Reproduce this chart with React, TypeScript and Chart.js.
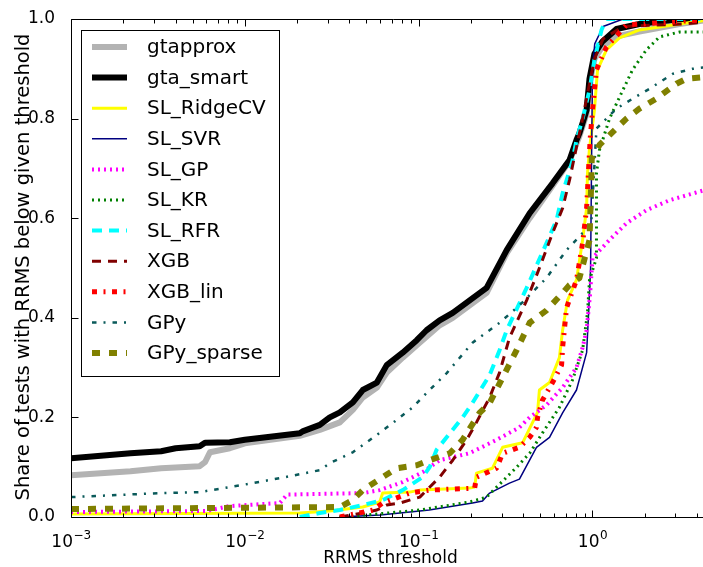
import React, { useEffect, useRef } from "react";
import { Chart, registerables } from "chart.js";

Chart.register(...registerables);

const FONT = "'DejaVu Sans', sans-serif";

// ---- data (x = RRMS threshold, y = share of tests) ----
const X_MIN = 0.001;
const X_MAX = 5;
const X_MAJOR_TICKS = [0.001, 0.01, 0.1, 1];
const X_TICK_EXPONENTS = ["\u22123", "\u22122", "\u22121", "0"];
const Y_TICKS = [0, 0.2, 0.4, 0.6, 0.8, 1.0];
const X_TITLE = "RRMS threshold";
const Y_TITLE = "Share of tests with RRMS below given threshold";

const GTAPPROX: [number, number][] = [
  [0.001, 0.084], [0.0022, 0.092], [0.0033, 0.098], [0.0055, 0.102], [0.0059, 0.11], [0.0063, 0.13],
  [0.0082, 0.138], [0.01, 0.148], [0.0207, 0.163], [0.027, 0.175], [0.0352, 0.19], [0.0418, 0.215],
  [0.0477, 0.24], [0.0575, 0.26], [0.0655, 0.29], [0.0809, 0.32], [0.0975, 0.345], [0.132, 0.385],
  [0.157, 0.4], [0.246, 0.45], [0.321, 0.53], [0.435, 0.6], [0.589, 0.665], [0.738, 0.715],
  [0.841, 0.765], [0.925, 0.81], [0.961, 0.87], [1.026, 0.92], [1.141, 0.945], [1.374, 0.965],
  [1.862, 0.975], [3.17, 0.99], [5, 1.0],
];
const GTA_SMART: [number, number][] = [
  [0.001, 0.118], [0.0022, 0.128], [0.0033, 0.132], [0.004, 0.138], [0.0055, 0.142], [0.0059, 0.149],
  [0.0082, 0.15], [0.01, 0.155], [0.0207, 0.168], [0.0215, 0.172], [0.027, 0.185], [0.0308, 0.2],
  [0.0352, 0.21], [0.0418, 0.23], [0.0477, 0.255], [0.0575, 0.27], [0.0655, 0.305], [0.0809, 0.33],
  [0.0975, 0.355], [0.111, 0.375], [0.132, 0.395], [0.157, 0.41], [0.246, 0.46], [0.321, 0.536],
  [0.435, 0.61], [0.589, 0.67], [0.738, 0.717], [0.809, 0.757], [0.841, 0.771], [0.925, 0.817],
  [0.961, 0.88], [1.026, 0.93], [1.141, 0.955], [1.374, 0.98], [1.862, 0.99], [3.17, 1.0], [5, 1.0],
];
const SL_RIDGECV: [number, number][] = [
  [0.001, 0.006], [0.0207, 0.008], [0.0308, 0.012], [0.0477, 0.02], [0.0597, 0.03], [0.0621, 0.048],
  [0.0887, 0.05], [0.1015, 0.054], [0.196, 0.058], [0.21, 0.06], [0.215, 0.088], [0.266, 0.098],
  [0.304, 0.14], [0.396, 0.149], [0.435, 0.178], [0.483, 0.21], [0.495, 0.255], [0.566, 0.27],
  [0.645, 0.32], [0.673, 0.375], [0.718, 0.435], [0.809, 0.476], [0.877, 0.556], [0.925, 0.62],
  [0.936, 0.69], [0.961, 0.74], [1.026, 0.817], [1.069, 0.898], [1.203, 0.938], [1.43, 0.962],
  [1.862, 0.978], [2.9, 0.988], [5, 1.0],
];
const SL_SVR: [number, number][] = [
  [0.035, 0], [0.06, 0.004], [0.1015, 0.012], [0.115, 0.014], [0.204, 0.028], [0.233, 0.032],
  [0.256, 0.048], [0.333, 0.068], [0.38, 0.076], [0.476, 0.14], [0.566, 0.16], [0.673, 0.209],
  [0.809, 0.255], [0.925, 0.33], [0.95, 0.41], [0.975, 0.5], [0.99, 0.75], [1.0, 0.9],
  [1.03, 0.95], [1.15, 0.985], [1.5, 1.0], [5, 1.0],
];
const SL_GP: [number, number][] = [
  [0.001, 0.01], [0.006, 0.012], [0.0082, 0.022], [0.0159, 0.028], [0.0175, 0.045], [0.0477, 0.048],
  [0.0597, 0.054], [0.0809, 0.07], [0.1055, 0.09], [0.132, 0.114], [0.196, 0.128], [0.281, 0.155],
  [0.38, 0.18], [0.435, 0.2], [0.544, 0.225], [0.673, 0.26], [0.809, 0.3], [0.877, 0.34],
  [0.925, 0.375], [0.97, 0.45], [1.0, 0.52], [1.25, 0.556], [1.57, 0.59], [2.04, 0.616],
  [2.77, 0.636], [5, 0.662],
];
const SL_KR: [number, number][] = [
  [0.035, 0], [0.05, 0.004], [0.1015, 0.014], [0.196, 0.03], [0.246, 0.04], [0.281, 0.06],
  [0.366, 0.1], [0.435, 0.128], [0.516, 0.169], [0.645, 0.22], [0.767, 0.275], [0.877, 0.335],
  [0.936, 0.41], [0.961, 0.476], [1.054, 0.52], [1.054, 0.69], [1.097, 0.737], [1.253, 0.8],
  [1.43, 0.843], [1.7, 0.898], [2.04, 0.938], [2.43, 0.964], [3.17, 0.974], [5, 0.974],
];
const SL_RFR: [number, number][] = [
  [0.0207, 0], [0.027, 0.008], [0.0352, 0.014], [0.0477, 0.024], [0.0621, 0.034], [0.0809, 0.054],
  [0.1055, 0.08], [0.1156, 0.1], [0.1268, 0.135], [0.157, 0.175], [0.179, 0.2], [0.204, 0.229],
  [0.256, 0.285], [0.292, 0.335], [0.321, 0.375], [0.418, 0.46], [0.544, 0.55], [0.621, 0.596],
  [0.673, 0.65], [0.767, 0.715], [0.809, 0.757], [0.877, 0.8], [0.961, 0.857], [1.026, 0.918],
  [1.127, 0.978], [1.2, 1.0], [5, 1.0],
];
const XGB: [number, number][] = [
  [0.0352, 0], [0.0477, 0.008], [0.0575, 0.014], [0.0655, 0.024], [0.0778, 0.028], [0.1015, 0.04],
  [0.132, 0.08], [0.157, 0.114], [0.189, 0.155], [0.215, 0.19], [0.256, 0.24], [0.292, 0.29],
  [0.333, 0.36], [0.418, 0.435], [0.495, 0.5], [0.589, 0.57], [0.673, 0.62], [0.738, 0.677],
  [0.809, 0.743], [0.877, 0.8], [0.961, 0.87], [1.026, 0.92], [1.15, 0.96], [1.5, 0.985],
  [3.3, 0.99], [5, 0.995],
];
const XGB_LIN: [number, number][] = [
  [0.0352, 0], [0.0545, 0.014], [0.0621, 0.028], [0.0887, 0.048], [0.1156, 0.054], [0.21, 0.058],
  [0.215, 0.08], [0.281, 0.098], [0.304, 0.128], [0.38, 0.14], [0.435, 0.16], [0.476, 0.18],
  [0.483, 0.2], [0.516, 0.235], [0.589, 0.27], [0.664, 0.305], [0.673, 0.34], [0.709, 0.42],
  [0.809, 0.476], [0.877, 0.55], [0.925, 0.62], [0.95, 0.7], [0.97, 0.76], [1.0, 0.817],
  [1.054, 0.898], [1.203, 0.944], [1.567, 0.988], [1.94, 0.99], [5, 1.0],
];
const GPY: [number, number][] = [
  [0.001, 0.04], [0.00325, 0.048], [0.0055, 0.05], [0.0096, 0.064], [0.0159, 0.078], [0.027, 0.094],
  [0.0308, 0.108], [0.0418, 0.13], [0.0597, 0.169], [0.0748, 0.195], [0.0924, 0.22], [0.111, 0.249],
  [0.145, 0.289], [0.204, 0.35], [0.292, 0.39], [0.38, 0.425], [0.544, 0.48], [0.709, 0.536],
  [0.877, 0.57], [0.98, 0.58], [1.054, 0.78], [1.374, 0.82], [1.7, 0.84], [2.13, 0.86],
  [2.9, 0.89], [3.76, 0.9], [5, 0.905],
];
const GPY_SPARSE: [number, number][] = [
  [0.001, 0.016], [0.0352, 0.02], [0.0418, 0.034], [0.0477, 0.054], [0.0621, 0.08], [0.0748, 0.098],
  [0.0975, 0.104], [0.1156, 0.114], [0.151, 0.128], [0.179, 0.155], [0.224, 0.209], [0.256, 0.229],
  [0.304, 0.28], [0.366, 0.335], [0.435, 0.39], [0.544, 0.415], [0.673, 0.45], [0.738, 0.466],
  [0.841, 0.48], [0.961, 0.556], [0.987, 0.69], [0.99, 0.72], [1.097, 0.747], [1.253, 0.767],
  [1.567, 0.8], [1.862, 0.82], [2.33, 0.84], [3.04, 0.87], [3.47, 0.88], [5, 0.885],
];

const SERIES_NAMES = [
  "gtapprox", "gta_smart", "SL_RidgeCV", "SL_SVR", "SL_GP", "SL_KR",
  "SL_RFR", "XGB", "XGB_lin", "GPy", "GPy_sparse",
];
const SERIES_DATA = [
  GTAPPROX, GTA_SMART, SL_RIDGECV, SL_SVR, SL_GP, SL_KR,
  SL_RFR, XGB, XGB_LIN, GPY, GPY_SPARSE,
];

// ---- styles ----
const SERIES_STYLE: { color: string; width: number; dash: number[] }[] = [
  { color: "#b3b3b3", width: 6, dash: [] },
  { color: "#000000", width: 6, dash: [] },
  { color: "#ffff00", width: 3, dash: [] },
  { color: "#000080", width: 1.5, dash: [] },
  { color: "#ff00ff", width: 4, dash: [2, 4] },
  { color: "#008000", width: 3, dash: [2, 4] },
  { color: "#00ffff", width: 4, dash: [10, 7] },
  { color: "#800000", width: 3, dash: [9, 7] },
  { color: "#ff0000", width: 5, dash: [5, 6.5, 2, 6.5] },
  { color: "#0a5a5a", width: 2.5, dash: [4.5, 7, 2, 7] },
  { color: "#808000", width: 6, dash: [8, 9] },
];

const framePlugin = {
  id: "mplFrame",
  afterDatasetsDraw(chart: any) {
    const ctx: CanvasRenderingContext2D = chart.ctx;
    const lx = 81.5, ly = 30.5, lw = 198, lh = 346;
    ctx.save();
    ctx.fillStyle = "#ffffff";
    ctx.fillRect(lx, ly, lw, lh);
    ctx.strokeStyle = "#000000";
    ctx.lineWidth = 1;
    ctx.strokeRect(lx, ly, lw, lh);
    chart.data.datasets.forEach((ds: any, i: number) => {
      const cy = 47 + i * 30.6;
      ctx.beginPath();
      ctx.strokeStyle = ds.borderColor;
      ctx.lineWidth = ds.borderWidth;
      ctx.lineCap = "butt";
      ctx.setLineDash(ds.borderDash || []);
      ctx.moveTo(92, cy);
      ctx.lineTo(127, cy);
      ctx.stroke();
      ctx.setLineDash([]);
      ctx.fillStyle = "#000000";
      ctx.font = `20px ${FONT}`;
      ctx.textBaseline = "middle";
      ctx.textAlign = "left";
      ctx.fillText(ds.label, 147, cy + 1);
    });
    ctx.restore();
  },
  afterDraw(chart: any) {
    const ctx: CanvasRenderingContext2D = chart.ctx;
    const { left, right, top, bottom } = chart.chartArea;
    const xs = chart.scales.x;
    const ys = chart.scales.y;
    ctx.save();
    ctx.strokeStyle = "#000000";
    ctx.lineWidth = 1;
    ctx.setLineDash([]);
    const seg = (x1: number, y1: number, x2: number, y2: number) => {
      ctx.beginPath();
      ctx.moveTo(x1, y1);
      ctx.lineTo(x2, y2);
      ctx.stroke();
    };
    const L = Math.round(left) + 0.5;
    const B = Math.round(bottom) + 0.5;
    const T = Math.round(top) + 0.5;
    seg(L, T, right + 5, T);
    seg(L, B, right + 5, B);
    seg(L, T, L, B);
    for (let e = -3; e <= 0; e++) {
      for (let k = 1; k <= 9; k++) {
        const v = k * Math.pow(10, e);
        if (v < X_MIN || v > X_MAX) continue;
        const px = Math.round(xs.getPixelForValue(v)) + 0.5;
        const len = k === 1 ? 7 : 4;
        seg(px, B, px, B - len);
        seg(px, T, px, T + len);
      }
    }
    for (const v of Y_TICKS) {
      const py = Math.round(ys.getPixelForValue(v)) + 0.5;
      seg(L, py, L + 7, py);
    }
    // x tick labels as 10 with a raised exponent
    ctx.fillStyle = "#000000";
    ctx.textBaseline = "alphabetic";
    ctx.textAlign = "left";
    X_MAJOR_TICKS.forEach((v, i) => {
      const px = xs.getPixelForValue(v);
      ctx.font = `17px ${FONT}`;
      const wBase = ctx.measureText("10").width;
      ctx.font = `12px ${FONT}`;
      const wExp = ctx.measureText(X_TICK_EXPONENTS[i]).width;
      const x0 = px - (wBase + wExp) / 2;
      const baseY = bottom + 30;
      ctx.font = `17px ${FONT}`;
      ctx.fillText("10", x0, baseY);
      ctx.font = `12px ${FONT}`;
      ctx.fillText(X_TICK_EXPONENTS[i], x0 + wBase + 0.5, baseY - 8);
    });
    // axis titles
    ctx.font = `17px ${FONT}`;
    ctx.textAlign = "center";
    ctx.textBaseline = "alphabetic";
    ctx.fillText(X_TITLE, (left + right) / 2 - 2, 563);
    ctx.save();
    ctx.translate(29, (top + bottom) / 2 - 1);
    ctx.rotate(-Math.PI / 2);
    ctx.font = `19.5px ${FONT}`;
    ctx.fillText(Y_TITLE, 0, 0);
    ctx.restore();
    ctx.restore();
  },
};

export default function App() {
  const ref = useRef<HTMLCanvasElement>(null);
  useEffect(() => {
    document.body.style.margin = "0";
    const canvas = ref.current!;
    const chart = new Chart(canvas, {
      type: "line",
      data: {
        datasets: SERIES_NAMES.map((name, i) => ({
          label: name,
          data: SERIES_DATA[i].map(([x, y]) => ({ x, y })),
          borderColor: SERIES_STYLE[i].color,
          backgroundColor: SERIES_STYLE[i].color,
          borderWidth: SERIES_STYLE[i].width,
          borderDash: SERIES_STYLE[i].dash,
          borderCapStyle: "butt",
          borderJoinStyle: "round",
          pointRadius: 0,
          tension: 0,
          fill: false,
          order: SERIES_NAMES.length - i,
        })),
      },
      plugins: [framePlugin],
      options: {
        animation: false,
        responsive: false,
        devicePixelRatio: 1,
        layout: { padding: { left: 0, right: 0, top: 19, bottom: 0 } },
        plugins: { legend: { display: false }, tooltip: { enabled: false } },
        scales: {
          x: {
            type: "logarithmic",
            min: X_MIN,
            max: X_MAX,
            grid: { display: false },
            border: { display: false },
            afterBuildTicks: (scale: any) => {
              scale.ticks = X_MAJOR_TICKS.map((v) => ({ value: v }));
            },
            afterFit: (scale: any) => {
              scale.height = 50;
            },
            ticks: { display: false },
            title: { display: false },
          },
          y: {
            type: "linear",
            min: 0,
            max: 1,
            grid: { display: false },
            border: { display: false },
            afterBuildTicks: (scale: any) => {
              scale.ticks = Y_TICKS.map((v) => ({ value: v }));
            },
            afterFit: (scale: any) => {
              scale.width = 71;
            },
            ticks: {
              padding: 8,
              color: "#000",
              font: { family: FONT, size: 17 },
              callback: (v: any) => Number(v).toFixed(1),
            },
            title: { display: false },
          },
        },
      } as any,
    });
    return () => chart.destroy();
  }, []);
  return (
    <div style={{ width: 703, height: 567, overflow: "hidden", position: "relative", background: "#fff" }}>
      <canvas ref={ref} width={714} height={567} style={{ display: "block", width: 714, height: 567 }} />
    </div>
  );
}
